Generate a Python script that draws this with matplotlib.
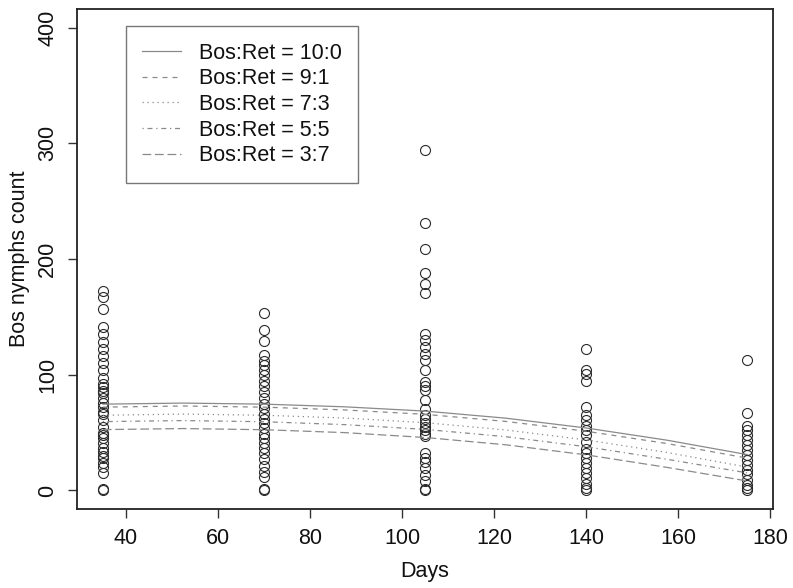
import matplotlib
matplotlib.use("Agg")
import matplotlib.pyplot as plt

plt.rcParams['font.family'] = ['Liberation Sans', 'DejaVu Sans']

# Observed counts per sampling day
days_35 = [172, 167, 157, 141, 135, 128, 122, 116, 110, 104, 97, 92, 89, 86, 84, 80, 76, 72, 68, 66,
           61, 55, 50, 48, 45, 41, 37, 33, 30, 28, 24, 20, 15, 1, 0]
days_70 = [153, 139, 129, 117, 112, 108, 104, 100, 95, 90, 85, 80, 75, 71, 66, 62, 58, 54, 49, 45,
           41, 37, 32, 27, 21, 16, 12, 1, 0]
days_105 = [294, 231, 209, 188, 178, 171, 135, 130, 124, 118, 113, 104, 94, 90, 87, 78, 70, 65, 62,
            58, 55, 52, 49, 47, 32, 28, 25, 19, 13, 8, 1, 0]
days_140 = [122, 104, 101, 95, 72, 65, 61, 56, 52, 48, 42, 36, 32, 28, 24, 19, 15, 11, 6, 2, 0]
days_175 = [113, 67, 56, 52, 48, 44, 39, 35, 31, 26, 22, 18, 14, 9, 5, 2, 0]

sample_days = [35, 70, 105, 140, 175]
counts = [days_35, days_70, days_105, days_140, days_175]

# Fitted curves (read at these days)
curve_days = [35, 52.5, 70, 87.5, 105, 122.5, 140, 157.5, 175]
fit_10_0 = [74.6, 75.5, 74.6, 72.3, 68.6, 62.5, 54.0, 43.5, 31.0]
fit_9_1 = [72.0, 73.0, 72.0, 69.6, 65.8, 59.7, 51.2, 40.6, 28.0]
fit_7_3 = [65.0, 66.0, 65.0, 62.6, 58.6, 52.3, 43.7, 32.9, 20.2]
fit_5_5 = [59.5, 60.4, 59.4, 56.9, 52.8, 46.5, 37.8, 27.0, 15.2]
fit_3_7 = [52.6, 53.5, 52.5, 50.0, 45.8, 39.5, 30.8, 20.0, 8.2]

labels = ["Bos:Ret = 10:0", "Bos:Ret = 9:1", "Bos:Ret = 7:3", "Bos:Ret = 5:5", "Bos:Ret = 3:7"]
fits = [fit_10_0, fit_9_1, fit_7_3, fit_5_5, fit_3_7]
styles = ['-', (0, (4, 4)), (0, (1, 3)), (0, (1, 3, 4, 3)), (0, (7, 3))]

fig = plt.figure(figsize=(7.93, 5.88), dpi=100)
ax = fig.add_axes([77 / 793, 1 - 509 / 588, (773 - 77) / 793, (509 - 9) / 588])

for d, vals in zip(sample_days, counts):
    ax.plot([d] * len(vals), vals, linestyle='none', marker='o', markersize=7.2,
            markerfacecolor='none', markeredgecolor='#2a2a2a', markeredgewidth=0.8)

handles = []
for f, ls, lab in zip(fits, styles, labels):
    h, = ax.plot(curve_days, f, linestyle=ls, color='#8a8a8a', linewidth=0.9, label=lab)
    handles.append(h)

ax.set_xlim(29.4, 180.6)
ax.set_ylim(-16, 416)
ax.set_xticks([40, 60, 80, 100, 120, 140, 160, 180])
ax.set_yticks([0, 100, 200, 300, 400])
for s in ax.spines.values():
    s.set_color('#222222')
    s.set_linewidth(1.3)
ax.tick_params(axis='both', direction='out', length=6.5, width=1, color='#333333',
               labelsize=15.5, labelcolor='#111111', pad=7)
for t in ax.get_yticklabels():
    t.set_rotation(90)
    t.set_va('center')
ax.set_xlabel('Days', fontsize=15.5, color='#111111', labelpad=9)
ax.set_ylabel('Bos nymphs count', fontsize=15.5, color='#111111', labelpad=5.5)

leg = ax.legend(handles=handles, loc='upper left', bbox_to_anchor=(40, 401),
                bbox_transform=ax.transData, fontsize=15.5, frameon=True, fancybox=False,
                borderpad=0.75, labelspacing=0.22, handlelength=1.8, handletextpad=0.85,
                borderaxespad=0)
leg.get_frame().set_edgecolor('#555555')
leg.get_frame().set_linewidth(1.0)
for t in leg.get_texts():
    t.set_color('#111111')

fig.savefig('out.png', dpi=100)
